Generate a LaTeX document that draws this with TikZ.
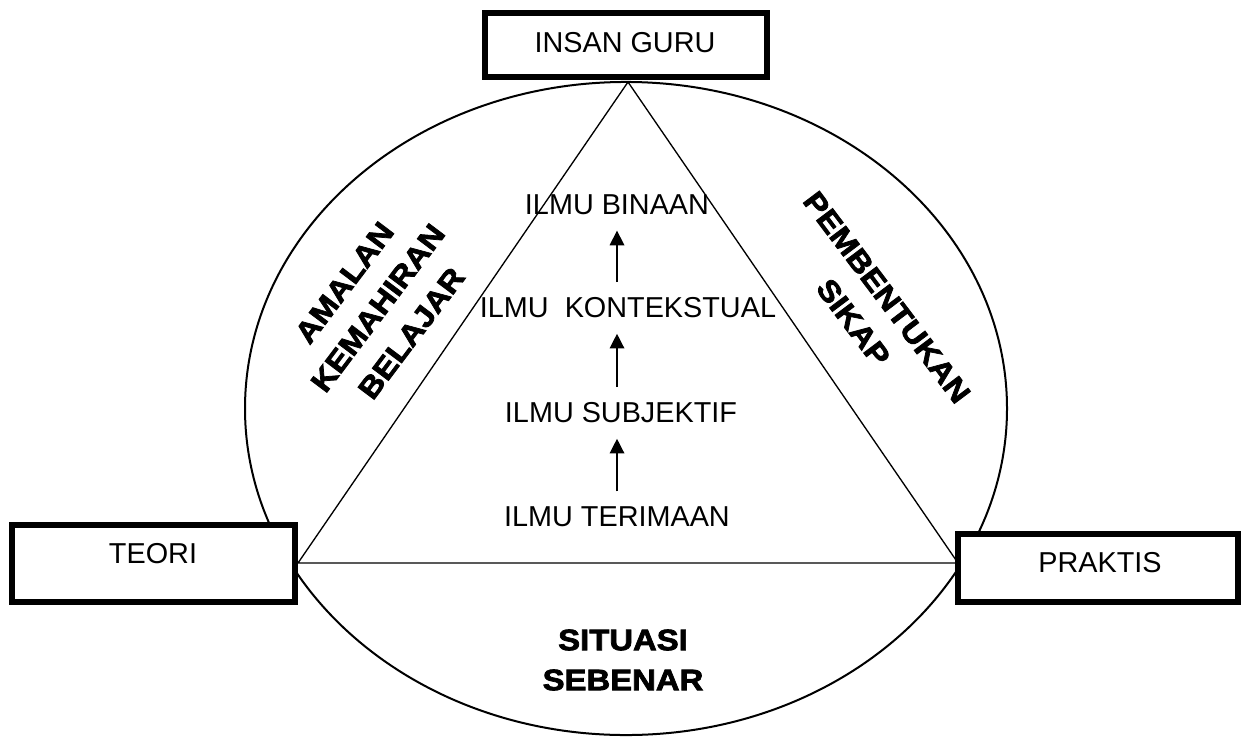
\documentclass[tikz,border=0pt]{standalone}
\usepackage{fontspec}
\setmainfont{Liberation Sans}
\newfontfamily\blackfont{Liberation Sans}[FakeStretch=1.11,FakeBold=2.5]
\usetikzlibrary{arrows.meta}
\begin{document}
\begin{tikzpicture}[x=0.75pt,y=-0.75pt,
  txt/.style={font=\fontsize{21.6pt}{26pt}\selectfont, inner sep=0pt},
  boldtxt/.style={font=\blackfont\bfseries\fontsize{22.2pt}{31.5pt}\selectfont, inner sep=0pt, align=center},
  boxnode/.style={draw, line width=4.5pt, fill=white, inner sep=0pt},
  thinline/.style={line width=1pt},
  arr/.style={line width=1pt, -{Triangle[length=11pt,width=11pt]}, shorten <=11.5pt, shorten >=11.5pt}]
\useasboundingbox (0,0) rectangle (1241,736);
% outer ellipse
\draw[line width=1.5pt] (626,408.5) ellipse [x radius=285.75pt, y radius=244.9pt];
% triangle
\coordinate (apex) at (628,82);
\coordinate (bl) at (298,563);
\coordinate (br) at (958,563);
\draw[thinline] (apex) -- (bl) -- (br) -- cycle;
% inner texts
\node[txt] (binaan) at (617,205) {ILMU BINAAN};
\node[txt] (konteks) at (628,308) {ILMU\ \ KONTEKSTUAL};
\node[txt] (subj) at (621,413) {ILMU SUBJEKTIF};
\node[txt] (terima) at (617,517) {ILMU TERIMAAN};
% arrows
\coordinate (ax) at (617,0);
\draw[arr] (ax |- terima.north) -- (ax |- subj.south);
\draw[arr] (ax |- subj.north) -- (ax |- konteks.south);
\draw[arr] (ax |- konteks.north) -- (ax |- binaan.south);
% bold labels
\node[boldtxt, rotate=53] (amalan) at (378,308) {AMALAN\\KEMAHIRAN\\BELAJAR};
\node[boldtxt, rotate=-53] (sikap) at (870,310) {PEMBENTUKAN\\SIKAP};
\node[boldtxt, font=\blackfont\bfseries\fontsize{22.2pt}{30pt}\selectfont] (situasi) at (623,660) {SITUASI\\SEBENAR};
% boxes
\node[boxnode, minimum width=211.5pt, minimum height=48pt] (guru) at (626,45) {};
\node[boxnode, minimum width=212.25pt, minimum height=57.75pt] (teori) at (153.5,563.5) {};
\node[boxnode, minimum width=210pt, minimum height=51pt] (praktis) at (1098,568) {};
\node[txt] (tguru) at (625,43) {INSAN GURU};
\node[txt] (tteori) at (153,554) {TEORI};
\node[txt] (tpraktis) at (1100,563) {PRAKTIS};
\end{tikzpicture}
\end{document}
